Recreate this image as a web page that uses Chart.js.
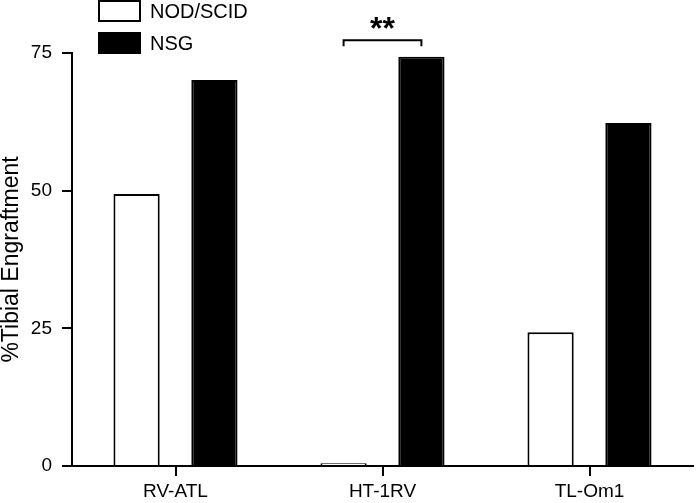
<!DOCTYPE html>
<html>
<head>
<meta charset="utf-8">
<script src="https://cdn.jsdelivr.net/npm/chart.js@4.4.1/dist/chart.umd.min.js"></script>
<style>
  html, body { margin: 0; padding: 0; background: #fff; }
  #wrap { width: 696px; height: 503px; }
</style>
</head>
<body>
<div id="wrap"><canvas id="myChart"></canvas></div>
<script>
// data
const cellLines = ['RV-ATL', 'HT-1RV', 'TL-Om1'];
const nodScid = [49.4, 0.5, 24.3];
const nsg = [70.1, 74.3, 62.3];
const yTicks = [0, 25, 50, 75];
// significance brackets: category index, height (in %), label
const sigIndex = [1];
const sigLevel = [77.3];
const sigLabel = ['**'];

const FONT = '"Liberation Sans", Arial, sans-serif';

// legend drawn as a vertical list in the top-left corner
const legendPlugin = {
    id: 'stackLegend',
    afterDraw(chart)
    {
        const ctx = chart.ctx;
        ctx.save();
        chart.data.datasets.forEach(function(ds, i)
        {
            const x = 99, y = 1 + i * 32;
            ctx.fillStyle = ds.backgroundColor;
            ctx.fillRect(x, y, 41, 20);
            ctx.lineWidth = 2;
            ctx.strokeStyle = '#000';
            ctx.strokeRect(x, y, 41, 20);
            ctx.fillStyle = '#000';
            ctx.font = '20px ' + FONT;
            ctx.textBaseline = 'middle';
            ctx.fillText(ds.label, 150, y + 11);
        });
        ctx.restore();
    }
};

// bracket with stars between the two bars of a group
const sigPlugin = {
    id: 'sigBracket',
    afterDraw(chart)
    {
        const ctx = chart.ctx;
        const y = chart.scales.y;
        ctx.save();
        sigIndex.forEach(function(idx, k)
        {
            const a = chart.getDatasetMeta(0).data[idx];
            const b = chart.getDatasetMeta(1).data[idx];
            const yy = y.getPixelForValue(sigLevel[k]);
            ctx.strokeStyle = '#000';
            ctx.lineWidth = 2;
            ctx.beginPath();
            ctx.moveTo(a.x, yy + 6);
            ctx.lineTo(a.x, yy);
            ctx.lineTo(b.x, yy);
            ctx.lineTo(b.x, yy + 6);
            ctx.stroke();
            ctx.fillStyle = '#000';
            ctx.font = 'bold 32px ' + FONT;
            ctx.textAlign = 'center';
            ctx.textBaseline = 'middle';
            ctx.fillText(sigLabel[k], (a.x + b.x) / 2, yy - 10);
        });
        ctx.restore();
    }
};

let chart_1 = new Chart(document.getElementById('myChart').getContext('2d'),
{
    type: 'bar',
    data:
    {
        labels: cellLines,
        datasets:
        [
            {
                label: 'NOD/SCID',
                data: nodScid,
                backgroundColor: '#ffffff',
                borderColor: '#000000',
                borderWidth: 2
            },
            {
                label: 'NSG',
                data: nsg,
                backgroundColor: '#000000',
                borderColor: '#000000',
                borderWidth: 2
            }
        ]
    },
    options:
    {
        responsive: true,
        maintainAspectRatio: false,
        animation: false,
        datasets: { bar: { categoryPercentage: 0.752, barPercentage: 0.594 } },
        layout: { padding: { top: 53, right: 3, left: 0, bottom: 0 } },
        plugins:
        {
            legend: { display: false },
            tooltip: { enabled: false }
        },
        scales:
        {
            x:
            {
                offset: true,
                grid: { display: true, offset: false, drawOnChartArea: false, drawTicks: true, tickLength: 10, color: '#000', lineWidth: 2 },
                border: { display: true, color: '#000', width: 2 },
                ticks: { color: '#000', font: { family: FONT, size: 19 }, padding: 4, maxRotation: 0 },
                afterFit: function(s) { s.height = 37; }
            },
            y:
            {
                min: 0,
                max: 75,
                afterBuildTicks: function(s) { s.ticks = yTicks.map(function(v) { return { value: v }; }); },
                grid: { display: true, drawOnChartArea: false, drawTicks: true, tickLength: 10, color: '#000', lineWidth: 2 },
                border: { display: true, color: '#000', width: 2 },
                ticks: { color: '#000', font: { family: FONT, size: 19 }, padding: 10 },
                title: { display: true, text: '%Tibial Engraftment', color: '#000', font: { family: FONT, size: 23 }, padding: { top: -2, bottom: 0 } },
                afterFit: function(s) { s.width = 72; }
            }
        }
    },
    plugins: [legendPlugin, sigPlugin]
});
</script>
</body>
</html>
